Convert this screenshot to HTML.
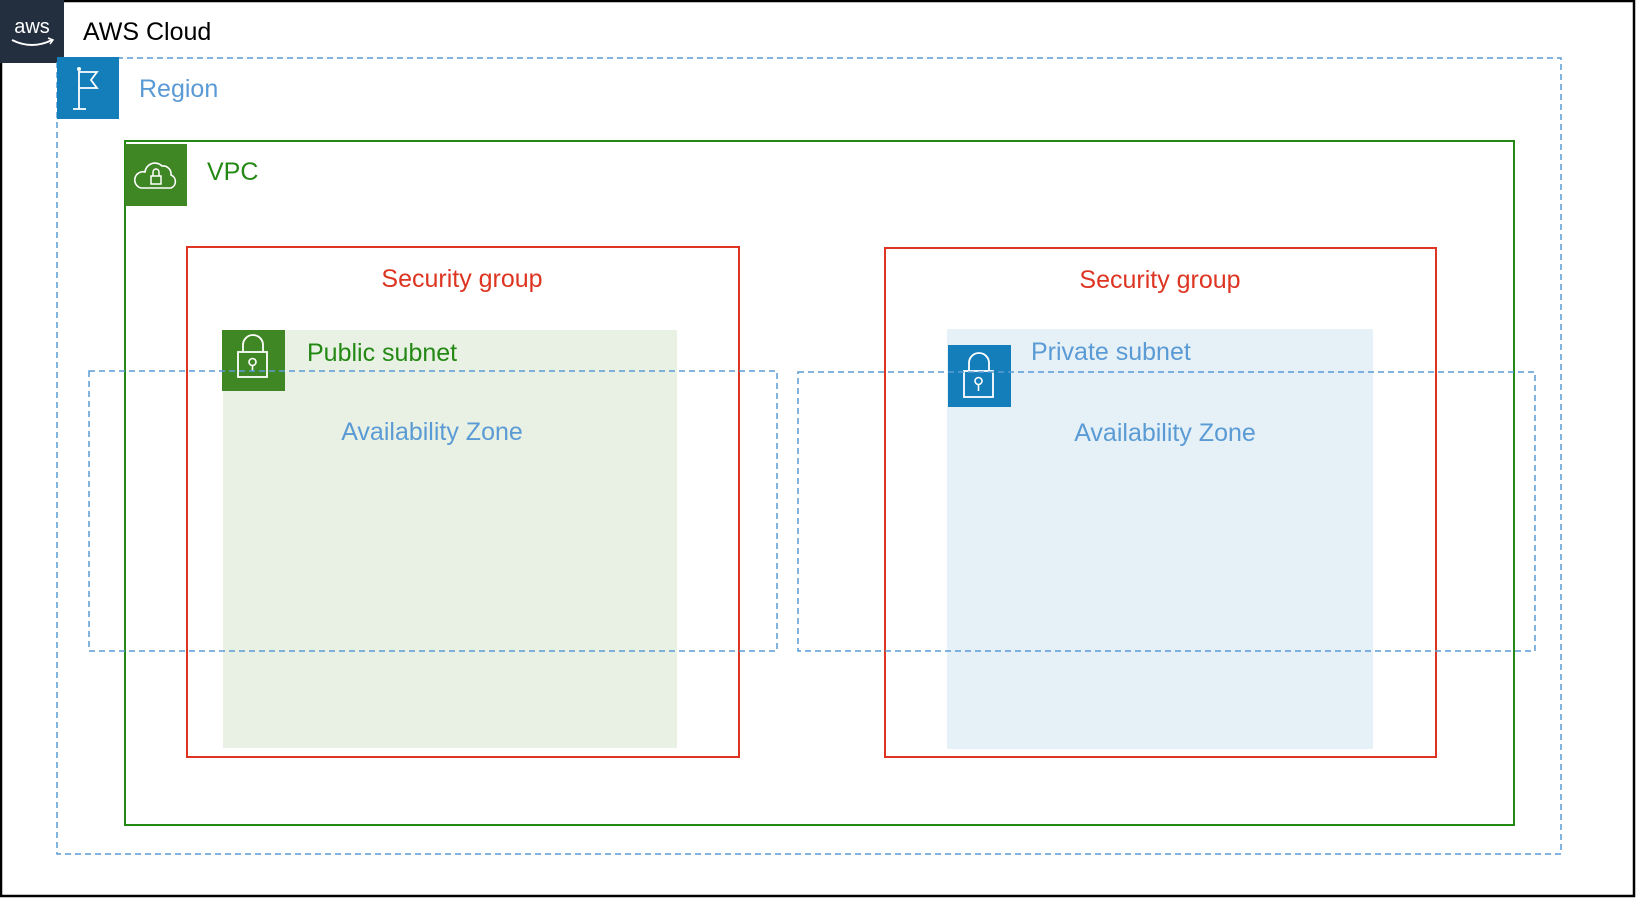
<!DOCTYPE html>
<html><head><meta charset="utf-8"><style>
html,body{margin:0;padding:0;background:#fff}
svg{display:block}
text{font-family:"Liberation Sans",Arial,sans-serif}
</style></head><body>
<svg width="1636" height="898" viewBox="0 0 1636 898" xmlns="http://www.w3.org/2000/svg">
<rect x="1" y="1" width="1633" height="895" fill="#fff" stroke="#000" stroke-width="2.5"/>
<rect x="0" y="0" width="64" height="63" fill="#232f3e"/>
<text x="32" y="33" font-size="20" fill="#fff" text-anchor="middle">aws</text>
<path d="M12 40 Q32 50 52 40" stroke="#fff" stroke-width="2" fill="none"/>
<path d="M48 38 L53 40 L50 44" stroke="#fff" stroke-width="1.5" fill="none"/>
<text x="83" y="40" font-size="25" fill="#000">AWS Cloud</text>
<rect x="223" y="330" width="454" height="418" fill="#e9f1e4"/>
<rect x="947" y="329" width="426" height="420" fill="#e6f0f7"/>
<rect x="57" y="58" width="1504" height="796" fill="none" stroke="#5a9bd5" stroke-width="1.5" stroke-dasharray="6,4"/>
<rect x="57" y="57" width="62" height="62" fill="#147eba"/>
<path d="M79 71 V109 M73 109 H86 M79 72 H97 L91 80 L97 88 H79" stroke="#fff" stroke-width="1.8" fill="none"/>
<circle cx="79" cy="69" r="2" fill="#fff"/>
<text x="139" y="97" font-size="25" fill="#5a9bd5">Region</text>
<rect x="125" y="141" width="1389" height="684" fill="none" stroke="#248814" stroke-width="2"/>
<rect x="125" y="144" width="62" height="62" fill="#3f8624"/>
<path d="M141 188 H171 A7 7 0 0 0 171 175 A8 8 0 0 0 162 166 A10 10 0 0 0 145 172 A8 8 0 0 0 141 188 Z" stroke="#fff" stroke-width="1.6" fill="none"/>
<rect x="151" y="176" width="10" height="8" stroke="#fff" stroke-width="1.5" fill="none"/>
<path d="M153 176 V172 A3 3 0 0 1 159 172 V176" stroke="#fff" stroke-width="1.5" fill="none"/>
<text x="207" y="180" font-size="25" fill="#248814">VPC</text>
<rect x="187" y="247" width="552" height="510" fill="none" stroke="#dd3522" stroke-width="2"/>
<rect x="885" y="248" width="551" height="509" fill="none" stroke="#dd3522" stroke-width="2"/>
<text x="462" y="287" font-size="25" fill="#dd3522" text-anchor="middle">Security group</text>
<text x="1160" y="288" font-size="25" fill="#dd3522" text-anchor="middle">Security group</text>
<rect x="222" y="330" width="63" height="61" fill="#3f8624"/>
<path d="M243 352 V345 A10 10 0 0 1 263 345 V352" stroke="#fff" stroke-width="1.8" fill="none"/>
<rect x="238" y="352" width="29" height="25" stroke="#fff" stroke-width="1.8" fill="none"/>
<circle cx="252.5" cy="362" r="3.5" stroke="#fff" stroke-width="1.6" fill="none"/>
<path d="M252.5 365.5 V371" stroke="#fff" stroke-width="1.6"/>
<text x="307" y="361" font-size="25" fill="#248814">Public subnet</text>
<rect x="948" y="345" width="63" height="62" fill="#147eba"/>
<path d="M969 371 V363 A10 10 0 0 1 989 363 V371" stroke="#fff" stroke-width="1.8" fill="none"/>
<rect x="964" y="371" width="29" height="26" stroke="#fff" stroke-width="1.8" fill="none"/>
<circle cx="978.5" cy="381" r="3.5" stroke="#fff" stroke-width="1.6" fill="none"/>
<path d="M978.5 384.5 V391" stroke="#fff" stroke-width="1.6"/>
<text x="1031" y="360" font-size="25" fill="#5a9bd5">Private subnet</text>
<rect x="89" y="371" width="688" height="280" fill="none" stroke="#5a9bd5" stroke-width="1.5" stroke-dasharray="6,4"/>
<rect x="798" y="372" width="737" height="279" fill="none" stroke="#5a9bd5" stroke-width="1.5" stroke-dasharray="6,4"/>
<text x="432" y="440" font-size="25" fill="#5a9bd5" text-anchor="middle">Availability Zone</text>
<text x="1165" y="441" font-size="25" fill="#5a9bd5" text-anchor="middle">Availability Zone</text>
</svg>
</body></html>
